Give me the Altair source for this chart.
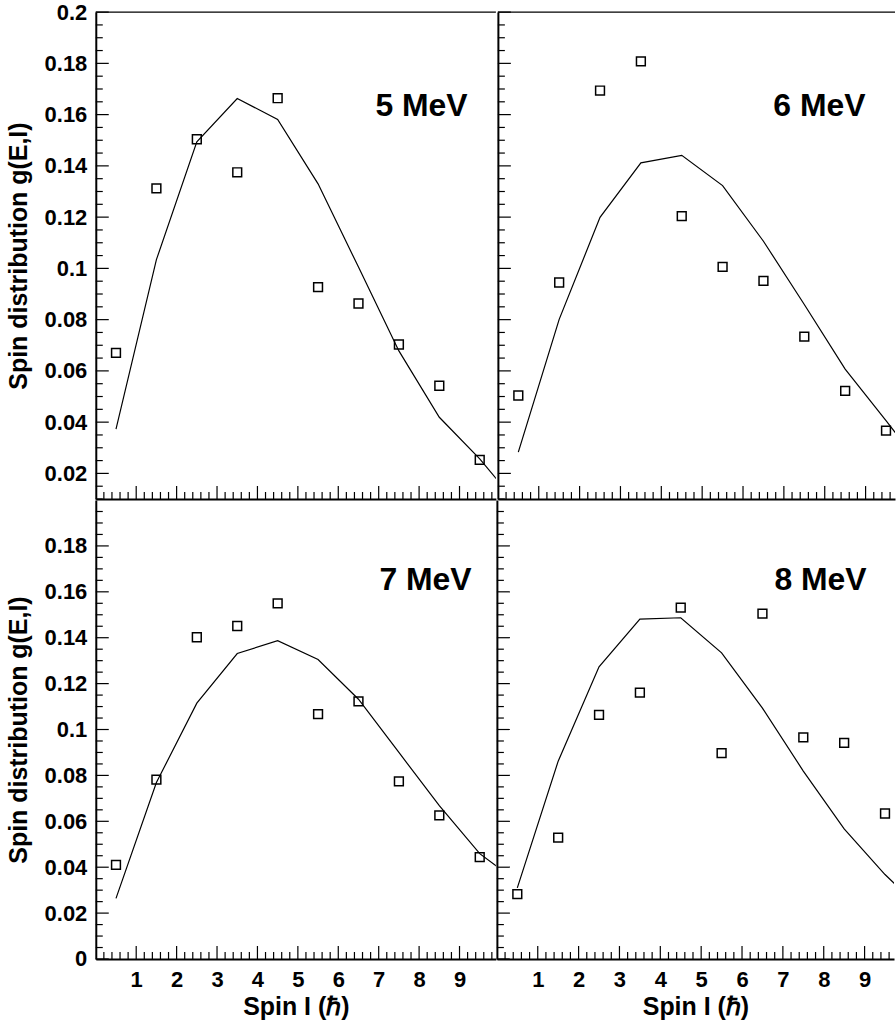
import altair as alt
import pandas as pd

# ---------------- data ----------------
spin = [0.5, 1.5, 2.5, 3.5, 4.5, 5.5, 6.5, 7.5, 8.5, 9.5]
spin_line = [0.5, 1.5, 2.5, 3.5, 4.5, 5.5, 6.5, 7.5, 8.5, 9.5, 10.5]

exp_5 = [0.0670, 0.1312, 0.1504, 0.1375, 0.1664, 0.0927, 0.0863, 0.0703, 0.0542, 0.0253]
th_5 = [0.0373, 0.1034, 0.1494, 0.1663, 0.1581, 0.1330, 0.1005, 0.0678, 0.0419, 0.0257, 0.0067]

exp_6 = [0.0504, 0.0945, 0.1694, 0.1808, 0.1204, 0.1006, 0.0951, 0.0734, 0.0522, 0.0367]
th_6 = [0.0283, 0.0801, 0.1199, 0.1412, 0.1441, 0.1323, 0.1106, 0.0859, 0.0607, 0.0406, 0.0198]

exp_7 = [0.0410, 0.0782, 0.1402, 0.1451, 0.1550, 0.1067, 0.1123, 0.0774, 0.0626, 0.0444]
th_7 = [0.0264, 0.0769, 0.1115, 0.1331, 0.1387, 0.1305, 0.1132, 0.0900, 0.0668, 0.0459, 0.0329]

exp_8 = [0.0283, 0.0529, 0.1064, 0.1161, 0.1531, 0.0897, 0.1505, 0.0966, 0.0942, 0.0634]
th_8 = [0.0310, 0.0862, 0.1273, 0.1481, 0.1487, 0.1334, 0.1093, 0.0819, 0.0567, 0.0368, 0.0199]

labels = ["5 MeV", "6 MeV", "7 MeV", "8 MeV"]
label_x = [9.2, 9.0, 9.3, 9.05]
label_y = [0.1595, 0.1595, 0.1606, 0.1606]

x_major = [1, 2, 3, 4, 5, 6, 7, 8, 9]
x_minor = [round(i * 0.2, 1) for i in range(1, 50) if i % 5 != 0]
y_major_top = [0.02, 0.04, 0.06, 0.08, 0.1, 0.12, 0.14, 0.16, 0.18, 0.2]
y_major_bot = [0, 0.02, 0.04, 0.06, 0.08, 0.1, 0.12, 0.14, 0.16, 0.18]
y_minor_top = [round(k * 0.005, 3) for k in range(2, 40) if k % 4 != 0]
y_minor_bot = [round(k * 0.005, 3) for k in range(1, 40) if k % 4 != 0]

FONT = "Liberation Sans"
W_LEFT, W_RIGHT = 401, 398
H_TOP, H_BOT = 488, 460
XDOM_LEFT, XDOM_RIGHT = [0, 9.9], [0, 9.72]
YDOM_TOP, YDOM_BOT = [0.01, 0.2], [0, 0.2]
MAJ, MIN = 13, 7


def panel(exp, th, idx, W, H, xdom, ydom, ymaj, ymin, left, bottom, top):
    xs = alt.Scale(domain=xdom, nice=False, zero=False)
    ys = alt.Scale(domain=ydom, nice=False, zero=False)

    xaxis_kw = dict(values=x_major, ticks=False, grid=False, domainWidth=2,
                    domainColor="black", labelFont=FONT, labelFontSize=22,
                    labelFontWeight="bold", labelColor="black", labelPadding=11,
                    titleFont=FONT, titleFontSize=25, titleFontWeight="bold",
                    titleColor="black", titlePadding=4)
    if not bottom:
        xaxis_kw["labels"] = False
    yaxis_kw = dict(values=ymaj, ticks=False, grid=False, domainWidth=2,
                    domainColor="black", labelFont=FONT, labelFontSize=22,
                    labelFontWeight="bold", labelColor="black", labelPadding=9,
                    format=".2~f", titleFont=FONT, titleFontSize=25,
                    titleFontWeight="bold", titleColor="black", titlePadding=13)
    if not left:
        yaxis_kw["labels"] = False
    xaxis = alt.Axis(**xaxis_kw)
    yaxis = alt.Axis(**yaxis_kw)

    xtitle = "Spin I (ℏ)" if bottom else None
    ytitle = "Spin distribution g(E,I)" if left else None

    def X(f):
        return alt.X(f, scale=xs, axis=xaxis, title=xtitle)

    def Y(f):
        return alt.Y(f, scale=ys, axis=yaxis, title=ytitle)

    df_pts = pd.DataFrame({"spin": spin, "g": exp})
    df_line = pd.DataFrame({"spin": spin_line, "g": th})

    line = alt.Chart(df_line).mark_line(color="black", strokeWidth=1.2, clip=True).encode(
        x=X("spin:Q"), y=Y("g:Q"))
    pts = alt.Chart(df_pts).mark_point(shape="square", filled=False, size=78,
                                       strokeWidth=1.5, color="black", opacity=1).encode(
        x=X("spin:Q"), y=Y("g:Q"))
    xt_maj = alt.Chart(pd.DataFrame({"spin": x_major})).mark_rule(color="black", strokeWidth=1.2, clip=True).encode(
        x=X("spin:Q"), y=alt.value(H), y2=alt.value(H - MAJ))
    xt_min = alt.Chart(pd.DataFrame({"spin": x_minor})).mark_rule(color="black", strokeWidth=1.2, clip=True).encode(
        x=X("spin:Q"), y=alt.value(H), y2=alt.value(H - MIN))
    yt_maj = alt.Chart(pd.DataFrame({"g": ymaj})).mark_rule(color="black", strokeWidth=1.2).encode(
        y=Y("g:Q"), x=alt.value(0), x2=alt.value(MAJ))
    yt_min = alt.Chart(pd.DataFrame({"g": ymin})).mark_rule(color="black", strokeWidth=1.2).encode(
        y=Y("g:Q"), x=alt.value(0), x2=alt.value(MIN))
    txt = alt.Chart(pd.DataFrame({"spin": [label_x[idx]], "g": [label_y[idx]], "t": [labels[idx]]})).mark_text(
        align="right", baseline="alphabetic", font=FONT, fontSize=32,
        fontWeight="bold", color="black").encode(
        x=X("spin:Q"), y=Y("g:Q"), text="t:N")

    layers = [line, pts, xt_maj, xt_min, yt_maj, yt_min, txt]
    if top:
        border = alt.Chart(pd.DataFrame({"a": [0]})).mark_rule(color="black", strokeWidth=1.2).encode(
            x=alt.value(0), x2=alt.value(W), y=alt.value(0))
        layers.append(border)
    return alt.layer(*layers).properties(width=W, height=H)


p5 = panel(exp_5, th_5, 0, W_LEFT, H_TOP, XDOM_LEFT, YDOM_TOP, y_major_top, y_minor_top, True, False, True)
p6 = panel(exp_6, th_6, 1, W_RIGHT, H_TOP, XDOM_RIGHT, YDOM_TOP, y_major_top, y_minor_top, False, False, True)
p7 = panel(exp_7, th_7, 2, W_LEFT, H_BOT, XDOM_LEFT, YDOM_BOT, y_major_bot, y_minor_bot, True, True, False)
p8 = panel(exp_8, th_8, 3, W_RIGHT, H_BOT, XDOM_RIGHT, YDOM_BOT, y_major_bot, y_minor_bot, False, True, False)

chart = alt.vconcat(
    alt.hconcat(p5, p6, spacing=0),
    alt.hconcat(p7, p8, spacing=0),
    spacing=0,
).properties(
    padding={"left": 6, "top": 0, "right": 0, "bottom": 0},
    background="white",
).configure_view(stroke=None)

chart.save("out.html", embed_options={"renderer": "svg", "actions": False})
